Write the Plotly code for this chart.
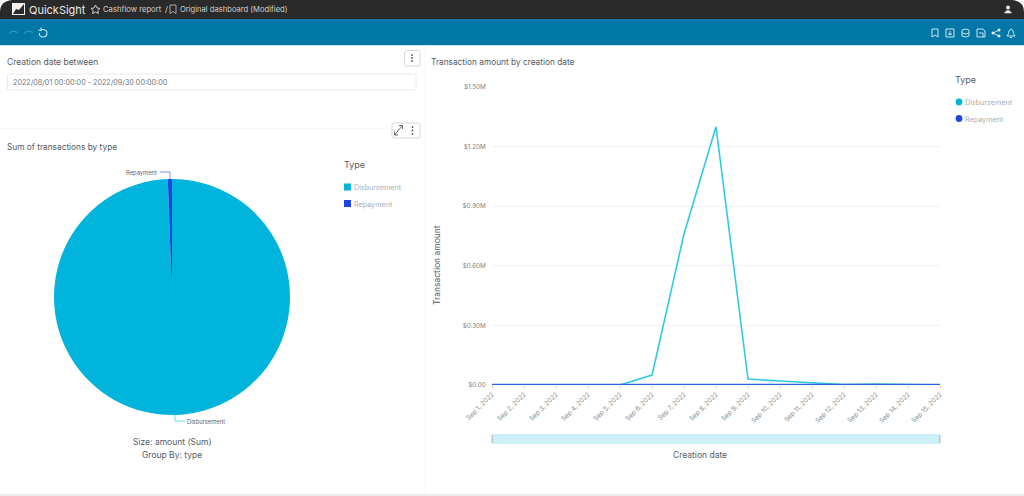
import plotly.graph_objects as go

# values
dates = ["2022-09-%02d" % d for d in [1, 2, 3, 4, 5, 6, 7, 8, 9, 10, 11, 12, 13, 14, 15]]
tick_labels = ["Sep %d, 2022" % d for d in [1, 2, 3, 4, 5, 6, 7, 8, 9, 10, 11, 12, 13, 14, 15]]
disbursement = [0, 0, 0, 0, 0, 50000, 760000, 1300000, 30000, 20000, 10000, 2000, 5000, 4000, 0]
repayment = [500, 500, 1000, 500, 1000, 1000, 1000, 1500, 1000, 1000, 1000, 1000, 500, 500, 500]
y_ticks = [0, 300000, 600000, 900000, 1200000, 1500000]
y_labels = ["$0.00", "$0.30M", "$0.60M", "$0.90M", "$1.20M", "$1.50M"]
types = ["Disbursement", "Repayment"]

W, H = 1024, 496
FONT = "Inter"
CYAN = "#00b4dc"
CYAN_LINE = "#2fcbe6"
BLUE = "#1f46e0"
TEXT = "#555b63"
FAINT = "#a9adb3"


def px(x):
    return x / W


def py(y):
    return 1 - y / H


fig = go.Figure()

fig.add_trace(go.Pie(
    labels=types,
    values=[sum(disbursement), sum(repayment)],
    sort=False,
    direction="clockwise",
    rotation=0,
    textinfo="none",
    marker=dict(colors=[CYAN, BLUE], line=dict(width=0)),
    domain=dict(x=[px(54), px(290)], y=[py(415), py(179)]),
    showlegend=False,
))

fig.add_trace(go.Scatter(x=dates, y=disbursement, mode="lines", name=types[0],
                         line=dict(color=CYAN_LINE, width=1.6), cliponaxis=False, showlegend=False))
fig.add_trace(go.Scatter(x=dates, y=repayment, mode="lines", name=types[1],
                         line=dict(color="#2b63e6", width=2.4), cliponaxis=False, showlegend=False))

shapes = []
annotations = []


def rect(x0, y0, x1, y1, fill, line=None, r=0):
    s = dict(type="rect", xref="x2", yref="y2", x0=x0, y0=y0, x1=x1, y1=y1, fillcolor=fill,
             line=dict(color=line or fill, width=1 if line else 0), layer="below")
    if r:
        s = dict(type="path", xref="x2", yref="y2", layer="below", fillcolor=fill,
                 line=dict(color=line or fill, width=1 if line else 0),
                 path=f"M{x0+r},{y0} L{x1-r},{y0} Q{x1},{y0} {x1},{y0+r} L{x1},{y1-r} Q{x1},{y1} {x1-r},{y1} "
                      f"L{x0+r},{y1} Q{x0},{y1} {x0},{y1-r} L{x0},{y0+r} Q{x0},{y0} {x0+r},{y0} Z")
    shapes.append(s)


def path(d, color, width=1.0, fill=None, layer="above"):
    shapes.append(dict(type="path", xref="x2", yref="y2", path=d, layer=layer,
                       line=dict(color=color, width=width), fillcolor=fill or "rgba(0,0,0,0)"))


def dot(cx, cy, r, fill):
    shapes.append(dict(type="circle", xref="x2", yref="y2", x0=cx-r, x1=cx+r, y0=cy-r, y1=cy+r,
                       fillcolor=fill, line=dict(width=0), layer="above"))


def label(x, y, text, size=8.5, color=TEXT, anchor="left", weight=None):
    # annotations carry about 2px of padding
    if anchor == "left":
        x -= 2
    elif anchor == "right":
        x += 2
    annotations.append(dict(xref="x2", yref="y2", x=x, y=y + 0.5, text=text, showarrow=False, xanchor=anchor,
                            yanchor="middle", font=dict(family=FONT, size=size, color=color, weight=weight)))


# top chrome
rect(0, 0, W, 20, "#2a2a2a")
rect(0, 19, W, 45, "#0077a6")
rect(0, 45, W, 46, "#cfe4ee")
rect(0, 494, W, 496, "#ececec")
path("M0,0 L12,0 Q0,1 0,12 Z", "#ffffff", 0, "#ffffff")
path(f"M{W},0 L{W-12},0 Q{W},1 {W},12 Z", "#ffffff", 0, "#ffffff")

rect(12, 3, 25, 15, "#f2f2f2")
path("M13,14 L16,9 L19,10 L24,4 L24,14 Z", "#2a2a2a", 0, "#2a2a2a")
label(29, 9, "QuickSight", 11, "#e8e8e8")
rect(83, 3, 83.6, 16, "#4a4a4a")
path("M95.5,5 L97,8 L100,8.4 L97.8,10.5 L98.4,13.5 L95.5,12 L92.6,13.5 L93.2,10.5 L91,8.4 L94,8 Z", "#e0e0e0", 0.9)
label(103, 8.5, "Cashflow report", 7.7, "#d0d0d0")
label(165, 8.5, "/", 8, "#d0d0d0")
path("M170,5 L176,5 L176,13.5 L173,11.5 L170,13.5 Z", "#c8c8c8", 0.8)
label(180, 8.5, "Original dashboard (Modified)", 7.6, "#d0d0d0")
dot(1008, 7.5, 2, "#e6e6e6")
path("M1004.5,13 Q1008,7.5 1011.5,13 Z", "#e6e6e6", 0.6, "#e6e6e6")

# toolbar icons
path("M9,34 Q13,29 18,33", "#3b93bb", 1.2)
path("M33,33 Q28,29 24,34", "#3b93bb", 1.2)
path("M41,29.5 Q47,29 47,33 Q47,37 43,37 Q39,37 39.5,33 M41,27.5 L41,30.5 L38.5,30", "#cfe7f0", 1.1)
path("M932,29 L938,29 L938,37 L935,35 L932,37 Z", "#e4f1f6", 0.9)
path("M946,29 L954,29 L954,37 L946,37 Z M950,31 L950,35 M948,33.5 L950,35 L952,33.5", "#e4f1f6", 0.9)
path("M962,30 Q966,28 969,30 L969,36 Q966,38 962,36 Z M962,33 Q966,35 969,33", "#e4f1f6", 0.9)
path("M977,29 L983,29 L985,31 L985,37 L977,37 Z M979,33 L983,33 L983,37", "#e4f1f6", 0.9)
path("M993,33 L999,30 M993,33 L999,36", "#e4f1f6", 0.9)
dot(993, 33, 1.5, "#e4f1f6")
dot(999, 30, 1.5, "#e4f1f6")
dot(999, 36, 1.5, "#e4f1f6")
path("M1007,36 Q1009,34 1009,31 Q1011,27 1013,31 Q1013,34 1015,36 Z M1010,37.5 L1012,37.5", "#e4f1f6", 0.9)

# panel borders
rect(424.5, 46, 425, 494, "#f5f6f7")
rect(0, 128.5, 424, 129, "#f1f2f3")

# filter control
label(7, 61, "Creation date between", 8.5)
rect(7.5, 74, 416, 90, "#ffffff", "#e8eaec", 1)
label(13, 82, "2022/08/01 00:00:00 - 2022/09/30 00:00:00", 7.2, "#71767c")
rect(404.5, 50.5, 420, 66, "#ffffff", "#d5d7da", 2)
for yy in (55, 58, 61):
    dot(412, yy, 0.9, "#555555")
rect(392, 123, 420, 138, "#ffffff", "#d5d7da", 2)
for yy in (127, 130.5, 134):
    dot(412.5, yy, 0.9, "#555555")
path("M394.5,135 L402,126 M399,125.5 L402.5,125.5 L402.5,129 M394.5,131.5 L394.5,135 L398,135", "#444444", 0.8)

# pie panel texts
label(7, 146, "Sum of transactions by type", 8.3)
label(344, 164, "Type", 9)
rect(344, 183.5, 351, 190.5, CYAN)
label(354, 187, "Disbursement", 7.2, FAINT)
rect(344, 200, 351, 207, BLUE)
label(354, 203.5, "Repayment", 7.2, FAINT)
label(157, 172, "Repayment", 5.8, "#5f6469", anchor="right")
path("M160,172 L170,172 L170,179", "#4a6be0", 0.7)
label(187, 421, "Disbursement", 5.8, "#5f6469")
path("M175,415 L175,421 L185,421", CYAN_LINE, 0.7)
label(172, 441, "Size: amount (Sum)", 8.5, anchor="center")
label(172, 454, "Group By: type", 8.5, anchor="center")

# line panel texts
label(431, 61, "Transaction amount by creation date", 8.3)
label(955, 79, "Type", 9)
dot(959, 102, 3.4, CYAN)
label(965, 102, "Disbursement", 7.2, FAINT)
dot(959, 118.5, 3.4, BLUE)
label(965, 118.5, "Repayment", 7.2, FAINT)
label(700, 454, "Creation date", 8.5, anchor="center")
annotations.append(dict(xref="x2", yref="y2", x=437, y=265, text="Transaction amount", textangle=-90,
                        showarrow=False, font=dict(family=FONT, size=8.5, color=TEXT)))

# range slider
rect(492, 434, 940, 444, "#cdf1f7")
rect(491.5, 435, 493, 443, "#b5c4c8")
rect(939, 435, 940.5, 443, "#b5c4c8")

fig.update_layout(
    width=W, height=H,
    margin=dict(l=0, r=0, t=0, b=0),
    paper_bgcolor="#ffffff",
    plot_bgcolor="rgba(0,0,0,0)",
    font=dict(family=FONT, color=TEXT),
    showlegend=False,
    shapes=shapes,
    annotations=annotations,
    xaxis=dict(
        domain=[px(492), px(940)],
        type="date",
        range=[dates[0], dates[-1]],
        tickvals=dates,
        ticktext=tick_labels,
        tickangle=-45,
        tickfont=dict(size=6.5, color="#85898e"),
        ticks="outside", ticklen=2, tickcolor="#c8ccd0",
        showgrid=False,
        zeroline=False,
        showline=False,
        automargin=False,
    ),
    yaxis=dict(
        domain=[py(385), py(87)],
        range=[0, 1500000],
        tickvals=y_ticks,
        ticktext=y_labels,
        tickfont=dict(size=6.3, color="#7b7f84"),
        gridcolor="#f1f2f3", gridwidth=1,
        zeroline=False,
        showline=False,
        ticks="outside", ticklen=4, tickcolor="rgba(0,0,0,0)",
        automargin=False,
    ),
    # pixel-space axes for the dashboard chrome around the charts
    xaxis2=dict(domain=[0, 1], range=[0, W], visible=False, anchor="y2", fixedrange=True),
    yaxis2=dict(domain=[0, 1], range=[H, 0], visible=False, anchor="x2", fixedrange=True),
)
fig.add_trace(go.Scatter(x=[0], y=[0], xaxis="x2", yaxis="y2", mode="markers", opacity=0,
                         hoverinfo="skip", showlegend=False))

# the default 8px page margin would push the figure off the window
fig.write_html("out.html", config=dict(displayModeBar=False),
               post_script="document.body.style.margin='0';document.documentElement.style.overflow='hidden';")
